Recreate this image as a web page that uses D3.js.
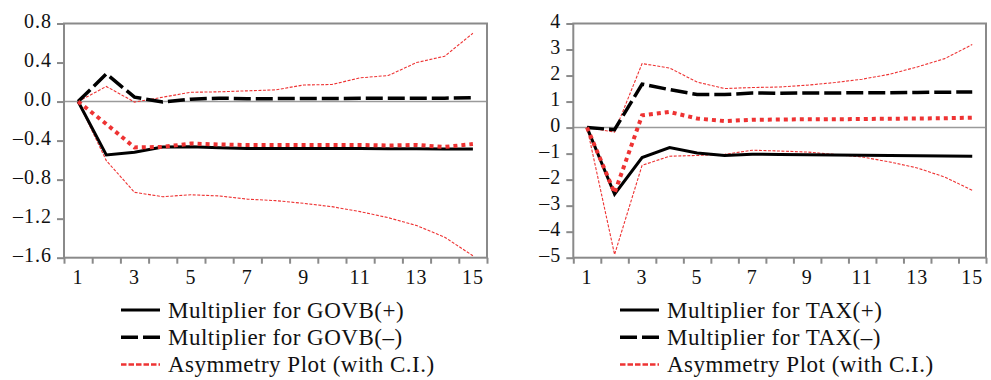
<!DOCTYPE html>
<html><head><meta charset="utf-8">
<script src="https://cdn.jsdelivr.net/npm/d3@7"></script>
<style>
html,body{margin:0;padding:0;background:#fff;}
svg{display:block;}
text{font-family:"Liberation Serif","Times New Roman",serif;fill:#111;}
</style></head>
<body><svg id="chart" width="991" height="380"></svg>
<script>
// ---------- DATA ----------
const periods = [1,2,3,4,5,6,7,8,9,10,11,12,13,14,15];
const xTickLabels = [1,3,5,7,9,11,13,15];

// Left panel: GOVB
const govbYTicks = [0.8,0.4,0.0,-0.4,-0.8,-1.2,-1.6];
const govbPos   = [0,-0.547,-0.52,-0.465,-0.462,-0.472,-0.48,-0.48,-0.482,-0.482,-0.482,-0.484,-0.484,-0.485,-0.485];
const govbNeg   = [0,0.284,0.045,-0.005,0.025,0.035,0.03,0.03,0.032,0.032,0.033,0.033,0.035,0.035,0.04];
const govbAsym  = [0,-0.23,-0.47,-0.465,-0.43,-0.44,-0.445,-0.445,-0.445,-0.445,-0.445,-0.45,-0.445,-0.465,-0.435];
const govbUpper = [0,0.155,-0.005,0.045,0.095,0.10,0.11,0.12,0.17,0.175,0.243,0.267,0.40,0.465,0.70];
const govbLower = [0,-0.605,-0.93,-0.975,-0.955,-0.967,-1.0,-1.015,-1.043,-1.077,-1.128,-1.19,-1.27,-1.39,-1.58];

// Right panel: TAX
const taxYTicks = [4,3,2,1,0,-1,-2,-3,-4,-5];
const taxPos   = [0,-2.56,-1.15,-0.77,-0.98,-1.07,-1.02,-1.03,-1.04,-1.05,-1.06,-1.07,-1.08,-1.09,-1.1];
const taxNeg   = [0,-0.08,1.67,1.46,1.27,1.27,1.33,1.32,1.33,1.33,1.34,1.34,1.35,1.36,1.37];
const taxAsym  = [0,-2.51,0.47,0.6,0.35,0.25,0.30,0.31,0.32,0.32,0.33,0.34,0.35,0.36,0.38];
const taxUpper = [0,-0.17,2.46,2.29,1.75,1.5,1.54,1.56,1.63,1.73,1.86,2.05,2.33,2.65,3.19];
const taxLower = [0,-4.88,-1.45,-1.1,-1.07,-1.03,-0.87,-0.9,-0.94,-1.03,-1.13,-1.32,-1.55,-1.9,-2.41];

const govbLegend = ["Multiplier for GOVB(+)","Multiplier for GOVB(–)","Asymmetry Plot (with C.I.)"];
const taxLegend  = ["Multiplier for TAX(+)","Multiplier for TAX(–)","Asymmetry Plot (with C.I.)"];

// ---------- STYLES ----------
const RED = "#ee3333";
const GRAY = "#8a8a8a";
const svg = d3.select("#chart");

function fmtTick(decimals){
  return v => {
    const s = decimals ? Math.abs(v).toFixed(decimals) : String(Math.abs(v));
    return (v < 0 ? "–" : "") + s;
  };
}

function panel(o){
  const g = svg.append("g");
  const x = d3.scaleLinear().domain([0.5,15.5]).range([o.left,o.right]);
  const y = d3.scaleLinear().domain(o.yDomain).range([o.bottom,o.top]);

  // zero line
  g.append("line").attr("x1",o.left).attr("x2",o.right)
    .attr("y1",y(0)).attr("y2",y(0))
    .attr("stroke","#9a9a9a").attr("stroke-width",1.5);

  // y axis
  const ya = g.append("g").attr("transform",`translate(${o.left},0)`)
    .call(d3.axisLeft(y).tickValues(o.yTicks).tickSize(7).tickPadding(5).tickFormat(fmtTick(o.decimals)));
  ya.select(".domain").remove();
  ya.selectAll(".tick line").attr("stroke",GRAY).attr("stroke-width",2);
  ya.selectAll(".tick text").attr("font-size",20).attr("letter-spacing","1px")
    .attr("font-family","Liberation Serif, serif").attr("fill","#111").attr("dy","0.18em");

  // x axis ticks at band edges
  const edges = periods.map(p => p - 0.5).concat([periods[periods.length-1] + 0.5]);
  const xa = g.append("g").attr("transform",`translate(0,${o.bottom})`)
    .call(d3.axisBottom(x).tickValues(edges).tickSize(6).tickFormat(""));
  xa.select(".domain").remove();
  xa.selectAll(".tick line").attr("stroke",GRAY).attr("stroke-width",2);
  g.selectAll(".xl").data(xTickLabels).enter().append("text")
    .attr("x",d => x(d)).attr("y",o.bottom + 26)
    .attr("text-anchor","middle").attr("font-size",20).attr("letter-spacing","1px")
    .text(d => d);

  // frame
  g.append("rect").attr("x",o.left).attr("y",o.top)
    .attr("width",o.right-o.left).attr("height",o.bottom-o.top)
    .attr("fill","none").attr("stroke",GRAY).attr("stroke-width",2);

  const lin = d3.line().x((d,i)=>x(periods[i])).y(d=>y(d));

  const pth = (data, stroke, w, dash) => g.append("path").datum(data)
    .attr("d",lin).attr("fill","none").attr("stroke",stroke).attr("stroke-width",w)
    .attr("stroke-dasharray",dash).attr("stroke-linejoin","miter");

  pth(o.upper, RED, 1.1, "3,1.5");
  pth(o.lower, RED, 1.1, "3,1.5");
  pth(o.pos, "#000", 3, null);
  pth(o.neg, "#000", 3.5, "17,5");
  pth(o.asym, RED, 4, "4,4");

  // legend
  const styles = [
    {stroke:"#000", w:3, dash:null},
    {stroke:"#000", w:3.5, dash:"17,5"},
    {stroke:RED, w:2.5, dash:"5.5,2"}
  ];
  o.legend.forEach((t,i)=>{
    const ly = 310 + i*27.3;
    g.append("line").attr("x1",o.legX).attr("x2",o.legX+39).attr("y1",ly).attr("y2",ly)
      .attr("stroke",styles[i].stroke).attr("stroke-width",styles[i].w)
      .attr("stroke-dasharray",styles[i].dash);
    g.append("text").attr("x",o.legX+47).attr("y",ly+7.7)
      .attr("font-size",23).attr("letter-spacing","0.5px").text(t);
  });
}

panel({left:64, right:487, top:23.5, bottom:257.7, yDomain:[-1.6,0.8], yTicks:govbYTicks, decimals:1,
  pos:govbPos, neg:govbNeg, asym:govbAsym, upper:govbUpper, lower:govbLower,
  legend:govbLegend, legX:121});
panel({left:573.3, right:986, top:23.5, bottom:257.7, yDomain:[-5,4], yTicks:taxYTicks, decimals:0,
  pos:taxPos, neg:taxNeg, asym:taxAsym, upper:taxUpper, lower:taxLower,
  legend:taxLegend, legX:620});
</script></body></html>
